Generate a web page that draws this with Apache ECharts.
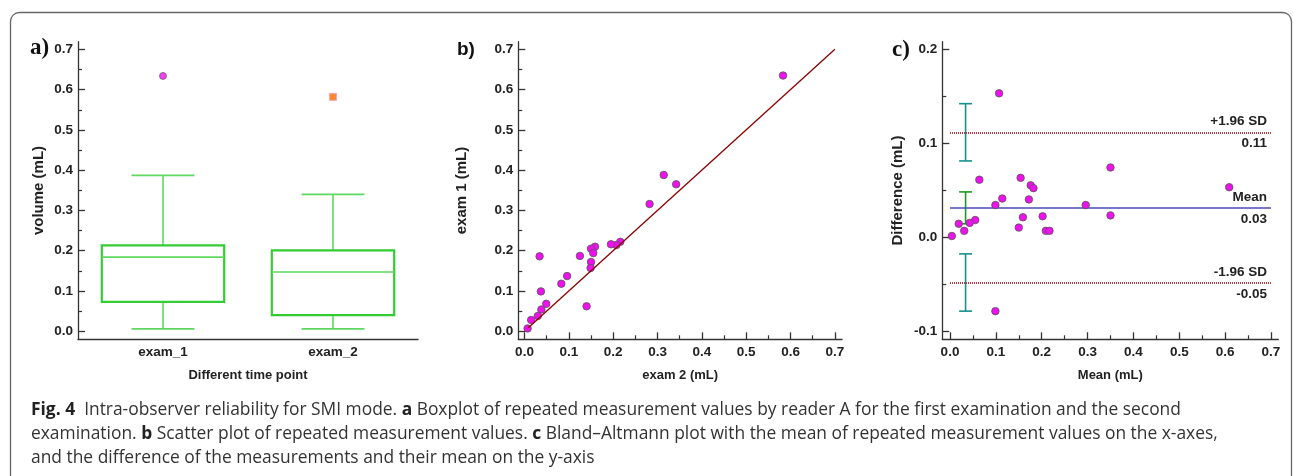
<!DOCTYPE html>
<html lang="en">
<head>
    <meta charset="UTF-8">
    <title>Fig. 4 SMI mode</title>
    <script src="https://cdn.jsdelivr.net/npm/echarts@6/dist/echarts.min.js"></script>
    <style>
        html, body { margin: 0; padding: 0; background: #fff; }
        #main { width: 1293px; height: 476px; }
    </style>
</head>
<body>
<div id="main"></div>
<script>
    // a) boxplot
    var boxCategories = ['exam_1', 'exam_2'];
    var boxMin = [0.006, 0.006];
    var boxQ1 = [0.073, 0.040];
    var boxMedian = [0.184, 0.147];
    var boxQ3 = [0.213, 0.201];
    var boxMax = [0.387, 0.340];
    var outlierValues = [0.634, 0.582];

    // b) scatter exam 2 vs exam 1
    var exam2 = [0.583, 0.314, 0.342, 0.282, 0.216, 0.207, 0.195, 0.159, 0.150, 0.155, 0.150, 0.149,
        0.125, 0.096, 0.083, 0.034, 0.037, 0.049, 0.038, 0.030, 0.015, 0.007, 0.140];
    var exam1 = [0.635, 0.388, 0.365, 0.316, 0.222, 0.214, 0.216, 0.210, 0.205, 0.194, 0.172, 0.157,
        0.187, 0.137, 0.118, 0.186, 0.099, 0.068, 0.054, 0.038, 0.028, 0.007, 0.062];
    var identityEnds = [0.008, 0.7];

    // c) Bland-Altman
    var baMean = [0.107, 0.350, 0.609, 0.064, 0.154, 0.176, 0.182, 0.114, 0.099, 0.172, 0.296, 0.350,
        0.202, 0.159, 0.055, 0.043, 0.019, 0.150, 0.031, 0.209, 0.217, 0.004, 0.099];
    var baDiff = [0.153, 0.074, 0.053, 0.061, 0.063, 0.055, 0.052, 0.041, 0.034, 0.040, 0.034, 0.023,
        0.022, 0.021, 0.018, 0.015, 0.014, 0.010, 0.0065, 0.0065, 0.0065, 0.001, -0.079];
    var limitValues = [0.111, 0.031, -0.049];
    var limitNames = ['+1.96 SD', 'Mean', '-1.96 SD'];
    var limitTexts = ['0.11', '0.03', '-0.05'];
    var ciX = 0.034;
    var ciLow = [0.081, 0.014, -0.079];
    var ciHigh = [0.142, 0.048, -0.018];

    // tick labels
    var ticks07 = [0, 0.1, 0.2, 0.3, 0.4, 0.5, 0.6, 0.7];
    var minor07 = [0.05, 0.15, 0.25, 0.35, 0.45, 0.55, 0.65];
    var ticksDiff = [-0.1, 0, 0.1, 0.2];
    var minorDiff = [-0.05, 0.05, 0.15];

    var FONT = 'Liberation Sans, Arial, sans-serif';
    var AXIS_COLOR = '#333';

    function tickLabel(ticks, margin) {
        return {customValues: ticks, margin: margin, color: '#222', fontFamily: FONT, fontWeight: 'bold', fontSize: 13.5,
            formatter: function (v) { return v.toFixed(1); }};
    }

    function mainAxis(grid, min, max, ticks, pos, name, gap) {
        return {
            type: 'value', gridIndex: grid, min: min, max: max, position: pos,
            splitLine: {show: false},
            axisLine: {show: true, onZero: false, lineStyle: {color: AXIS_COLOR, width: 1.3}},
            axisTick: {show: true, inside: true, length: 7, customValues: ticks, lineStyle: {color: AXIS_COLOR, width: 1.3}},
            axisLabel: tickLabel(ticks, pos === 'left' ? 5 : 6),
            name: name, nameLocation: 'middle', nameGap: gap,
            nameTextStyle: {color: '#222', fontFamily: FONT, fontWeight: 'bold', fontSize: pos === 'left' ? 15 : 13}
        };
    }

    function minorAxis(grid, min, max, ticks, pos) {
        return {
            type: 'value', gridIndex: grid, min: min, max: max, position: pos,
            splitLine: {show: false},
            axisLine: {show: false, onZero: false},
            axisTick: {show: true, inside: true, length: 4, customValues: ticks, lineStyle: {color: AXIS_COLOR, width: 1.2}},
            axisLabel: {show: false}
        };
    }

    var boxRows = boxCategories.map(function (c, i) {
        return [i, boxMin[i], boxQ1[i], boxMedian[i], boxQ3[i], boxMax[i]];
    });

    var limitLines = [];
    limitValues.forEach(function (v, i) {
        var style = i === 1
            ? {color: '#4a4ab4', width: 1.5, type: 'solid'}
            : {color: '#b43c3c', width: 2, type: [1, 1]};
        limitLines.push([
            {coord: [0, v], lineStyle: style,
                label: {show: true, position: 'insideEndTop', distance: 4, formatter: limitNames[i]}},
            {coord: [0.7, v]}
        ]);
        limitLines.push([
            {coord: [0, v], lineStyle: {color: 'rgba(0,0,0,0)', width: 0},
                label: {show: true, position: 'insideEndBottom', distance: 4, formatter: limitTexts[i]}},
            {coord: [0.7, v]}
        ]);
    });

    var ciColors = ['#1a8f8f', '#1f991f', '#1a8f8f'];
    var ciRows = ciLow.map(function (lo, i) { return [ciX, lo, ciHigh[i], i]; });

    var chart = echarts.init(document.getElementById('main'), null, {renderer: 'canvas'});
    chart.setOption({
        backgroundColor: '#fff',
        animation: false,
        title: [
            {text: 'a)', left: 25, top: 32, textStyle: {fontFamily: 'Liberation Serif, serif', fontWeight: 'bold', fontSize: 23, color: '#111'}},
            {text: 'b)', left: 452, top: 35, textStyle: {fontFamily: FONT, fontWeight: 'bold', fontSize: 19, color: '#111'}},
            {text: 'c)', left: 887, top: 34, textStyle: {fontFamily: 'Liberation Serif, serif', fontWeight: 'bold', fontSize: 23, color: '#111'}},
            {
                text: '{b|Fig. 4}  Intra-observer reliability for SMI mode. {b|a} Boxplot of repeated measurement values by reader A for the first examination and the second\n' +
                    'examination. {b|b} Scatter plot of repeated measurement values. {b|c} Bland\u2013Altmann plot with the mean of repeated measurement values on the x-axes,\n' +
                    'and the difference of the measurements and their mean on the y-axis',
                left: 26, top: 393,
                textStyle: {
                    fontFamily: 'Open Sans, sans-serif', fontSize: 17.4, color: '#333', lineHeight: 24, fontWeight: 'normal',
                    rich: {b: {fontFamily: 'Open Sans, sans-serif', fontSize: 17.4, fontWeight: 'bold', color: '#222', lineHeight: 24}}
                }
            }
        ],
        graphic: [{
            type: 'rect', z: -10, silent: true,
            shape: {x: 10.5, y: 12.5, width: 1281, height: 500, r: 9},
            style: {fill: 'none', stroke: '#666', lineWidth: 1.3}
        }],
        grid: [
            {left: 78, top: 41.7, width: 340, height: 297.6},
            {left: 518.3, top: 41.7, width: 323.7, height: 297.6},
            {left: 942.3, top: 41.7, width: 336, height: 297.6}
        ],
        xAxis: [
            {
                type: 'category', gridIndex: 0, data: boxCategories, position: 'bottom',
                axisLine: {onZero: false, lineStyle: {color: AXIS_COLOR, width: 1.3}},
                axisTick: {inside: true, alignWithLabel: true, length: 7, lineStyle: {color: AXIS_COLOR, width: 1.3}},
                axisLabel: {margin: 6, color: '#222', fontFamily: FONT, fontWeight: 'bold', fontSize: 13.5},
                name: 'Different time point', nameLocation: 'middle', nameGap: 30,
                nameTextStyle: {color: '#222', fontFamily: FONT, fontWeight: 'bold', fontSize: 13}
            },
            mainAxis(1, -0.014, 0.716, ticks07, 'bottom', 'exam 2 (mL)', 30),
            minorAxis(1, -0.014, 0.716, minor07, 'bottom'),
            mainAxis(2, -0.0168, 0.716, ticks07, 'bottom', 'Mean (mL)', 30),
            minorAxis(2, -0.0168, 0.716, minor07, 'bottom')
        ],
        yAxis: [
            mainAxis(0, -0.02, 0.719, ticks07, 'left', 'volume (mL)', 32),
            minorAxis(0, -0.02, 0.719, minor07, 'left'),
            mainAxis(1, -0.02, 0.719, ticks07, 'left', 'exam 1 (mL)', 49),
            minorAxis(1, -0.02, 0.719, minor07, 'left'),
            mainAxis(2, -0.109, 0.208, ticksDiff, 'left', 'Difference (mL)', 37),
            minorAxis(2, -0.109, 0.208, minorDiff, 'left')
        ],
        series: [
            {
                type: 'custom', xAxisIndex: 0, yAxisIndex: 0, data: boxRows,
                encode: {x: 0, y: [1, 2, 3, 4, 5]},
                renderItem: function (params, api) {
                    var i = api.value(0);
                    var band = api.size([1, 0])[0];
                    var half = band * 0.36, cap = band * 0.185;
                    var pMin = api.coord([i, api.value(1)]);
                    var pQ1 = api.coord([i, api.value(2)]);
                    var pMed = api.coord([i, api.value(3)]);
                    var pQ3 = api.coord([i, api.value(4)]);
                    var pMax = api.coord([i, api.value(5)]);
                    var cx = pMed[0];
                    var light = {stroke: '#5fd85f', lineWidth: 1.6};
                    return {
                        type: 'group', children: [
                            {type: 'line', shape: {x1: cx, y1: pMax[1], x2: cx, y2: pQ3[1]}, style: light},
                            {type: 'line', shape: {x1: cx, y1: pQ1[1], x2: cx, y2: pMin[1]}, style: light},
                            {type: 'line', shape: {x1: cx - cap, y1: pMax[1], x2: cx + cap, y2: pMax[1]}, style: light},
                            {type: 'line', shape: {x1: cx - cap, y1: pMin[1], x2: cx + cap, y2: pMin[1]}, style: light},
                            {type: 'rect', shape: {x: cx - half, y: pQ3[1], width: half * 2, height: pQ1[1] - pQ3[1]},
                                style: {fill: 'none', stroke: '#33cc33', lineWidth: 2.2}},
                            {type: 'line', shape: {x1: cx - half, y1: pMed[1], x2: cx + half, y2: pMed[1]}, style: light}
                        ]
                    };
                }
            },
            {
                type: 'scatter', xAxisIndex: 0, yAxisIndex: 0,
                data: [
                    {value: [0, outlierValues[0]], symbol: 'circle', symbolSize: 7,
                        itemStyle: {color: '#ee11ee', borderColor: '#555', borderWidth: 0.8}},
                    {value: [1, outlierValues[1]], symbol: 'rect', symbolSize: 7,
                        itemStyle: {color: '#ff6a00', borderColor: '#ff99bb', borderWidth: 1}}
                ]
            },
            {
                type: 'line', xAxisIndex: 1, yAxisIndex: 2, symbol: 'none',
                data: [[identityEnds[0], identityEnds[0]], [identityEnds[1], identityEnds[1]]],
                lineStyle: {color: '#8b0000', width: 1.3}
            },
            {
                type: 'scatter', xAxisIndex: 1, yAxisIndex: 2, symbolSize: 7.5,
                data: exam2.map(function (x, i) { return [x, exam1[i]]; }),
                itemStyle: {color: '#ee11ee', borderColor: '#555', borderWidth: 0.8, opacity: 1}
            },
            {
                type: 'custom', xAxisIndex: 3, yAxisIndex: 4, data: ciRows,
                encode: {x: 0, y: [1, 2]},
                renderItem: function (params, api) {
                    var lo = api.coord([api.value(0), api.value(1)]);
                    var hi = api.coord([api.value(0), api.value(2)]);
                    var st = {stroke: ciColors[api.value(3)], lineWidth: 1.6};
                    var w = 6.5;
                    return {
                        type: 'group', children: [
                            {type: 'line', shape: {x1: lo[0], y1: lo[1], x2: hi[0], y2: hi[1]}, style: st},
                            {type: 'line', shape: {x1: lo[0] - w, y1: lo[1], x2: lo[0] + w, y2: lo[1]}, style: st},
                            {type: 'line', shape: {x1: hi[0] - w, y1: hi[1], x2: hi[0] + w, y2: hi[1]}, style: st}
                        ]
                    };
                }
            },
            {
                type: 'scatter', xAxisIndex: 3, yAxisIndex: 4, symbolSize: 7.5, z: 5,
                data: baMean.map(function (m, i) { return [m, baDiff[i]]; }),
                itemStyle: {color: '#ee11ee', borderColor: '#555', borderWidth: 0.8, opacity: 1},
                markLine: {
                    silent: true, symbol: ['none', 'none'], animation: false,
                    label: {color: '#222', fontFamily: FONT, fontWeight: 'bold', fontSize: 13.5},
                    data: limitLines
                }
            }
        ]
    });
</script>
</body>
</html>
